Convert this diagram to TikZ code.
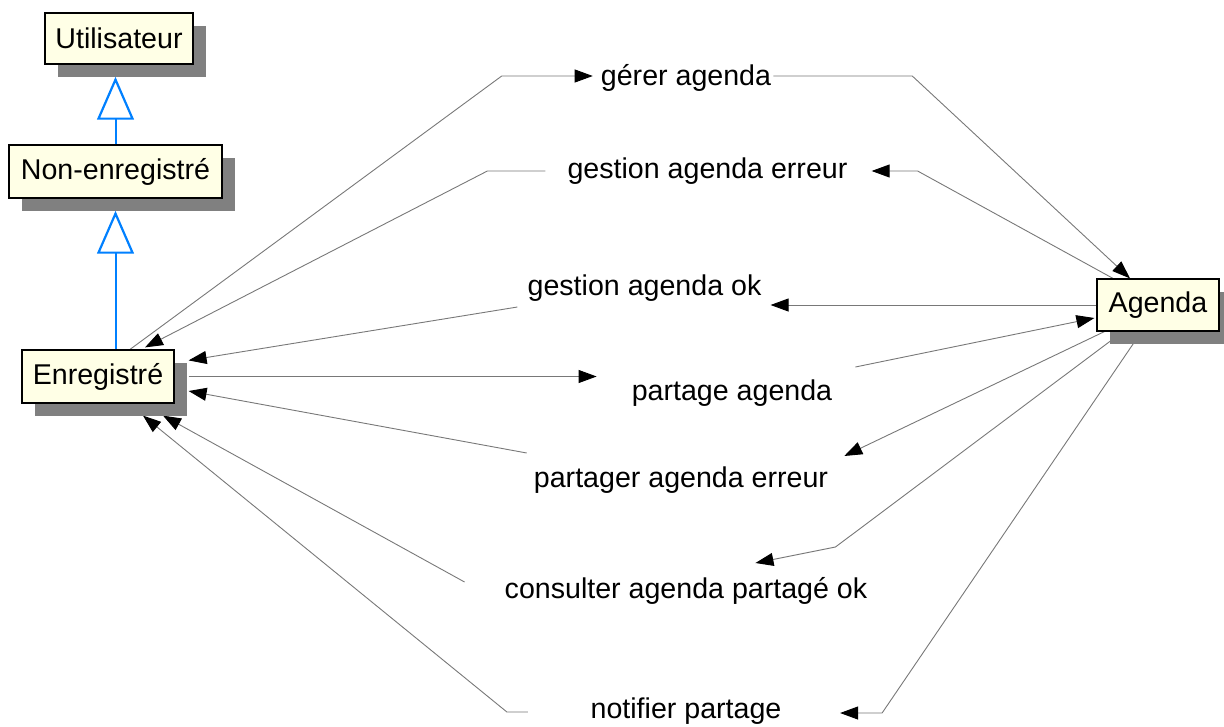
\documentclass[tikz,border=0pt]{standalone}
\usepackage{fontspec}
\setmainfont{Liberation Sans}
\usetikzlibrary{arrows.meta,shadows,calc}
\pgfdeclarelayer{bg}
\pgfsetlayers{bg,main}
\definecolor{boxfill}{RGB}{255,255,230}
\definecolor{shadowgray}{RGB}{128,128,128}
\definecolor{linegray}{RGB}{120,120,120}
\definecolor{genblue}{RGB}{0,128,255}
\begin{document}
\begin{tikzpicture}[x=1pt,y=-1pt,
 every node/.style={font=\fontsize{28.6}{34}\selectfont},
 classbox/.style={draw=black, line width=1.2pt, fill=boxfill, inner sep=0pt,
   drop shadow={shadow xshift=13pt, shadow yshift=-13pt, fill=shadowgray, opacity=1}},
 msg/.style={inner sep=0pt, anchor=base},
 conn/.style={draw=linegray, line width=0.9pt},
 msgarrow/.style={conn, -{Triangle[length=18pt,width=13pt,color=black]}},
 genline/.style={draw=genblue, line width=2pt},
 gentri/.style={draw=genblue, line width=2.2pt, fill=white, line join=miter}
]
\useasboundingbox (0,0) rectangle (1224,726);

% classes
\node[classbox, minimum width=148pt, minimum height=51pt] (u) at (119,38.5) {Utilisateur};
\node[classbox, minimum width=213pt, minimum height=53pt] (n) at (115.5,171.5) {Non-enregistré};
\node[classbox, minimum width=152pt, minimum height=53pt] (e) at (98,376.5) {Enregistré};
\node[classbox, minimum width=122pt, minimum height=52pt] (a) at (1158,305) {Agenda};

% messages
\node[msg] (m1) at (686,85) {gérer agenda};
\node[msg] (m2) at (707.5,178) {gestion agenda erreur};
\node[msg] (m3) at (644.5,295) {gestion agenda ok};
\node[msg] (m4) at (732,400) {partage agenda};
\node[msg] (m5) at (681,487) {partager agenda erreur};
\node[msg] (m6) at (686,598) {consulter agenda partagé ok};
\node[msg] (m7) at (686,718) {notifier partage};

% generalisations (line + hollow triangle touching the parent's shadow)
\coordinate (t1) at ($(n.north |- u.south)+(0,15)$);
\coordinate (t2) at ($(n.south)+(0,15)$);
\draw[genline] (n.north) -- ($(t1)+(0,39)$);
\draw[gentri] (t1) -- ++(17,39) -- ++(-34,0) -- cycle;
\draw[genline] (n.south |- e.north) -- ($(t2)+(0,39)$);
\draw[gentri] (t2) -- ++(17,39) -- ++(-34,0) -- cycle;

\begin{pgfonlayer}{bg}
% gerer agenda
\draw[msgarrow] ($(e.north)+(32,0)$) -- ($(m1.base west)+(-99,-9)$) -- ($(m1.base west)+(-8,-9)$);
\draw[msgarrow] ($(m1.base east)+(2,-9)$) -- ($(m1.base east)+(141,-9)$) -- ($(a.north)+(-28,0)$);
% gestion agenda erreur
\draw[msgarrow] ($(a.north)+(-45,0)$) -- ($(m2.base east)+(70,-7)$) -- ($(m2.base east)+(24,-7)$);
\draw[msgarrow] ($(m2.base west)+(-22,-7)$) -- ($(m2.base west)+(-80,-7)$) -- ($(e.north)+(47,-2)$);
% gestion agenda ok
\draw[msgarrow] (a.west) -- ($(m3.base east)+(9,10)$);
\draw[msgarrow] ($(m3.base west)+(-10,12)$) -- ($(e.north east)+(14,11)$);
% partage agenda
\draw[msgarrow] ($(e.east)+(14,0)$) -- ($(m4.base west)+(-35,-23.5)$);
\draw[msgarrow] ($(m4.base east)+(23,-33)$) -- ($(a.west)+(-2,13)$);
% partager agenda erreur
\draw[msgarrow] ($(a.south west)+(8,0)$) -- ($(m5.base east)+(16,-31)$);
\draw[msgarrow] ($(m5.base west)+(-7,-34)$) -- ($(e.east)+(14,14.5)$);
% consulter agenda partage ok
\draw[msgarrow] ($(a.south)+(-35,0)$) -- ($(m6.base east)+(-32,-51)$) -- ($(m6.base east)+(-112,-35)$);
\draw[msgarrow] ($(m6.base west)+(-40,-16)$) -- ($(e.south)+(65,12)$);
% notifier partage
\draw[msgarrow] ($(a.south)+(-16.5,0)$) -- ($(m7.base east)+(100.5,-5)$) -- ($(m7.base east)+(58.5,-5)$);
\draw[msgarrow] ($(m7.base west)+(-62.5,-6)$) -- ($(m7.base west)+(-83.5,-6)$) -- ($(e.south)+(45,12)$);
\end{pgfonlayer}
\end{tikzpicture}
\end{document}
